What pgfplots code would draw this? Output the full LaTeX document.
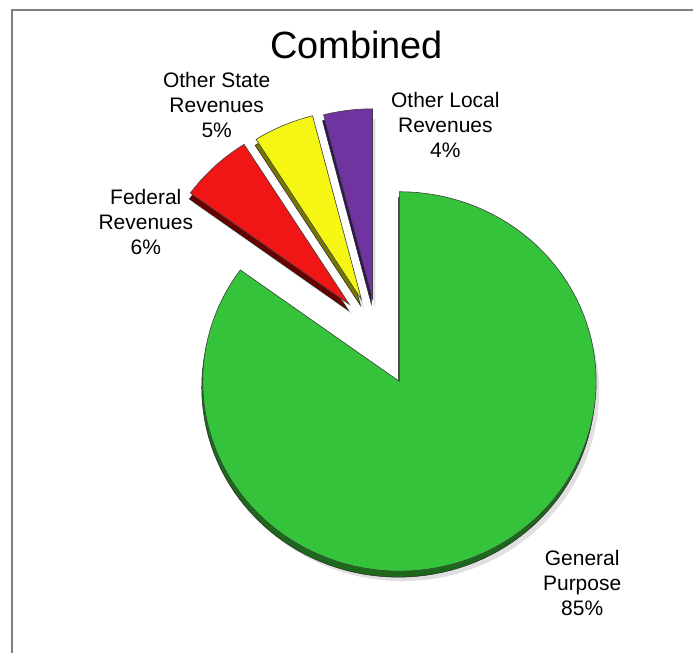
\documentclass[border=0pt]{standalone}
\usepackage{pgfplots}
\pgfplotsset{compat=1.18}
\usepackage{pgfplotstable}
\usepackage{fontspec}
\setmainfont{Liberation Sans}
\definecolor{face0}{RGB}{52,195,58}
\definecolor{side0}{RGB}{28,105,28}
\definecolor{face1}{RGB}{240,22,22}
\definecolor{side1}{RGB}{105,0,0}
\definecolor{face2}{RGB}{246,246,20}
\definecolor{side2}{RGB}{118,118,0}
\definecolor{face3}{RGB}{112,52,160}
\definecolor{side3}{RGB}{48,20,88}
\definecolor{framegray}{RGB}{128,128,128}
\pgfplotstableread{
label value dx dy
General 85 0 0
Federal 6 -50 77
OtherState 5 -38 82
OtherLocal 4 -27 83
}\pietable
\begin{document}
\begin{tikzpicture}
\begin{axis}[x=1pt,y=1pt,xmin=0,xmax=694,ymin=0,ymax=654,hide axis,clip=false]
\path (axis cs:0,0) rectangle (axis cs:694,654);
\draw[framegray, line width=2pt] (axis cs:12,0) -- (axis cs:12,644) -- (axis cs:694,644);
\def\cum{0}
\pgfplotsforeachungrouped \i in {0,1,2,3}{%
  \pgfplotstablegetelem{\i}{value}\of\pietable \let\val\pgfplotsretval
  \pgfplotstablegetelem{\i}{dx}\of\pietable \let\ddx\pgfplotsretval
  \pgfplotstablegetelem{\i}{dy}\of\pietable \let\ddy\pgfplotsretval
  \pgfmathsetmacro\aend{90-3.6*\cum}%
  \pgfmathsetmacro\astart{\aend-3.6*\val}%
  \pgfmathsetmacro\cx{400+\ddx}%
  \pgfmathsetmacro\cy{272+\ddy}%
  \pgfmathsetmacro\cys{\cy-6}%
  \pgfmathsetmacro\cxs{\cx-1}%
  \pgfmathsetmacro\cxh{\cx+3}%
  \pgfmathsetmacro\cyh{\cy-10}%
  \pgfmathsetmacro\cum{\cum+\val}%
  \edef\cmd{\noexpand\addplot[draw=none, fill=black, fill opacity=0.12, domain=\astart:\aend, samples=120] ({\cxh+197*cos(x)},{\cyh+190*sin(x)}) -- (axis cs:\cxh,\cyh) -- cycle;}\cmd
  \edef\cmd{\noexpand\addplot[draw=black!85, line width=0.5pt, fill=side\i, domain=\astart:\aend, samples=120] ({\cxs+197*cos(x)},{\cys+190*sin(x)}) -- (axis cs:\cxs,\cys) -- cycle;}\cmd
  \edef\cmd{\noexpand\addplot[draw=black!75, line width=0.6pt, fill=face\i, domain=\astart:\aend, samples=120] ({\cx+197*cos(x)},{\cy+190*sin(x)}) -- (axis cs:\cx,\cy) -- cycle;}\cmd
}
\node[font=\fontsize{38}{44}\selectfont] at (axis cs:357,609) {Combined};
\node[align=center, font=\fontsize{21}{25}\selectfont] at (axis cs:217,549) {Other State\\Revenues\\5\%};
\node[align=center, font=\fontsize{21}{25}\selectfont] at (axis cs:446,529) {Other Local\\Revenues\\4\%};
\node[align=center, font=\fontsize{21}{25}\selectfont] at (axis cs:146,432) {Federal\\Revenues\\6\%};
\node[align=center, font=\fontsize{21}{25}\selectfont] at (axis cs:583,70) {General\\Purpose\\85\%};
\end{axis}
\end{tikzpicture}
\end{document}
